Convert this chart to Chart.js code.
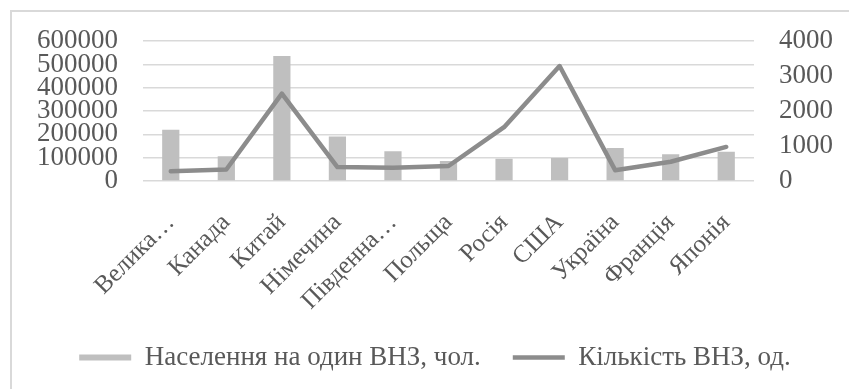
<!DOCTYPE html>
<html>
<head>
<meta charset="utf-8">
<script src="https://cdn.jsdelivr.net/npm/chart.js@4/dist/chart.umd.min.js"></script>
<style>
  html, body { margin: 0; padding: 0; background: #fff; }
  #wrap { position: relative; width: 849px; height: 389px; overflow: hidden; }
  #frame { position: absolute; left: 10px; top: 10px; width: 900px; height: 420px; border: 2px solid #d9d9d9; }
  canvas { position: absolute; left: 0; top: 0; }
</style>
</head>
<body>
<div id="wrap">
  <div id="frame"></div>
  <canvas id="chart" width="849" height="389"></canvas>
</div>
<script>
const countries = ['Велика…', 'Канада', 'Китай', 'Німечина', 'Південна…', 'Польща', 'Росія', 'США', 'Україна', 'Франція', 'Японія'];
const populationPerUni = [220000, 106000, 536000, 191000, 128000, 86000, 95000, 99000, 142000, 115000, 126000];
const uniCount = [280, 330, 2500, 400, 380, 430, 1540, 3290, 310, 550, 975];
const leftTicks = [0, 100000, 200000, 300000, 400000, 500000, 600000];
const rightTicks = [0, 1000, 2000, 3000, 4000];

const txt = '#595959';
const grid = '#d9d9d9';
const serif = "'Liberation Serif', 'Times New Roman', serif";
const font = { family: serif, size: 27 };
const catFont = { family: serif, size: 25 };

new Chart(document.getElementById('chart'), {
  type: 'bar',
  data: {
    labels: countries,
    datasets: [
      {
        type: 'bar',
        label: 'Населення на один ВНЗ, чол.',
        data: populationPerUni,
        backgroundColor: '#bfbfbf',
        borderWidth: 0,
        categoryPercentage: 1,
        barPercentage: 0.31,
        yAxisID: 'y',
        order: 1,
        pointStyle: 'rect'
      },
      {
        type: 'line',
        label: 'Кількість ВНЗ, од.',
        data: uniCount,
        borderColor: '#8c8c8c',
        backgroundColor: '#8c8c8c',
        borderWidth: 4.5,
        borderJoinStyle: 'round',
        borderCapStyle: 'round',
        pointRadius: 0,
        tension: 0,
        yAxisID: 'y1',
        order: 0,
        pointStyle: 'line'
      }
    ]
  },
  options: {
    responsive: false,
    animation: false,
    layout: { padding: { left: 37, right: 16, top: 23, bottom: 8 } },
    plugins: {
      tooltip: { enabled: false },
      legend: {
        position: 'bottom',
        labels: {
          color: txt,
          font: font,
          usePointStyle: true,
          pointStyleWidth: 52,
          boxHeight: 6,
          padding: 32,
          sort: (a, b) => a.datasetIndex - b.datasetIndex
        }
      }
    },
    scales: {
      x: {
        grid: { display: false },
        border: { display: false },
        ticks: { color: txt, font: catFont, minRotation: 45, maxRotation: 45, autoSkip: false, padding: 19 },
        afterFit: s => { s.height = 131; s.paddingLeft = 0; s.paddingRight = 0; }
      },
      y: {
        position: 'left',
        min: 0,
        max: leftTicks[leftTicks.length - 1],
        afterBuildTicks: s => { s.ticks = leftTicks.map(v => ({ value: v })); },
        grid: { color: grid, lineWidth: 1.5, drawTicks: false },
        border: { display: false },
        ticks: { color: txt, font: font, autoSkip: false, padding: 25, callback: v => String(v) },
        afterFit: s => { s.width = 106; }
      },
      y1: {
        position: 'right',
        min: 0,
        max: rightTicks[rightTicks.length - 1],
        afterBuildTicks: s => { s.ticks = rightTicks.map(v => ({ value: v })); },
        grid: { display: false, drawTicks: false },
        border: { display: false },
        ticks: { color: txt, font: font, autoSkip: false, padding: 25, callback: v => String(v) },
        afterFit: s => { s.width = 79; }
      }
    }
  }
});
</script>
</body>
</html>
